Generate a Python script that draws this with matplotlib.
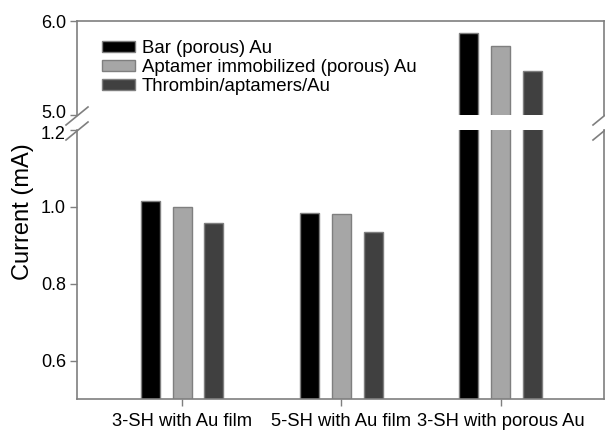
import numpy as np
import matplotlib.pyplot as plt
import matplotlib.transforms as mtransforms
from matplotlib.lines import Line2D

plt.rcParams['font.family'] = ['Liberation Sans', 'DejaVu Sans']
plt.rcParams['font.size'] = 13

categories = ['3-SH with Au film', '5-SH with Au film', '3-SH with porous Au']
series = ['Bar (porous) Au', 'Aptamer immobilized (porous) Au', 'Thrombin/aptamers/Au']
values = {
    'Bar (porous) Au': [1.014, 0.984, 5.87],
    'Aptamer immobilized (porous) Au': [0.998, 0.981, 5.73],
    'Thrombin/aptamers/Au': [0.956, 0.933, 5.47],
}
colors = ['#000000', '#a6a6a6', '#404040']
edge = '#7f7f7f'

W, H = 605, 430
fig = plt.figure(figsize=(W / 100, H / 100), dpi=100)

def fx(px):
    return px / W

def fy(py):
    return 1 - py / H

left, right = fx(77), fx(604)
ax_lo = fig.add_axes([left, fy(399), right - left, fy(129.5) - fy(399)])
ax_hi = fig.add_axes([left, fy(114.5), right - left, fy(21) - fy(114.5)])

x = np.arange(len(categories))
width = 0.12
offsets = [-0.2, 0.0, 0.2]

handles = []
for i, name in enumerate(series):
    for ax in (ax_lo, ax_hi):
        b = ax.bar(x + offsets[i], values[name], width, color=colors[i],
                   edgecolor=edge, linewidth=1.0, label=name)
    handles.append(b)

ax_lo.set_ylim(0.5, 1.2)
ax_hi.set_ylim(5.0, 6.0)
for ax in (ax_lo, ax_hi):
    ax.set_xlim(-0.66, 2.65)
    for s in ax.spines.values():
        s.set_color(edge)
        s.set_linewidth(1.2)
    ax.tick_params(colors=edge, labelcolor='black', length=5, width=1, pad=3)
    ax.tick_params(axis='y', labelsize=13)
    ax.tick_params(axis='x', labelsize=13.2, pad=5)

ax_lo.spines['top'].set_visible(False)
ax_hi.spines['bottom'].set_visible(False)
ax_hi.set_xticks([])
ax_lo.set_xticks(x)
ax_lo.set_xticklabels(categories)
ax_lo.set_yticks([0.6, 0.8, 1.0, 1.2])
ax_lo.set_yticklabels(['0.6', '0.8', '1.0', '1.2'])
ax_hi.set_yticks([5.0, 6.0])
ax_hi.set_yticklabels(['5.0', '6.0'])

# nudge the two labels at the break apart so they don't collide
lbl_12 = ax_lo.get_yticklabels()[-1]
lbl_12.set_transform(lbl_12.get_transform() + mtransforms.ScaledTranslation(0, -3 / 100, fig.dpi_scale_trans))
lbl_50 = ax_hi.get_yticklabels()[0]
lbl_50.set_transform(lbl_50.get_transform() + mtransforms.ScaledTranslation(0, 3 / 100, fig.dpi_scale_trans))

fig.text(fx(23), fy(212), 'Current (mA)', rotation=90, ha='center', va='center', fontsize=17)

leg = ax_hi.legend(handles=handles, labels=series, loc='upper left',
                   bbox_to_anchor=(fx(102), fy(40)), bbox_transform=fig.transFigure,
                   frameon=False, handlelength=1.76, handleheight=0.48,
                   labelspacing=0.11, handletextpad=0.37, borderaxespad=0,
                   borderpad=0, fontsize=13.4)

# break marks
for sx in (77, 604):
    for cy in (116, 131):
        fig.add_artist(Line2D([fx(sx - 11), fx(sx + 11)], [fy(cy + 9), fy(cy - 9)],
                              color=edge, linewidth=1.2))

fig.savefig('out.png', dpi=100)
